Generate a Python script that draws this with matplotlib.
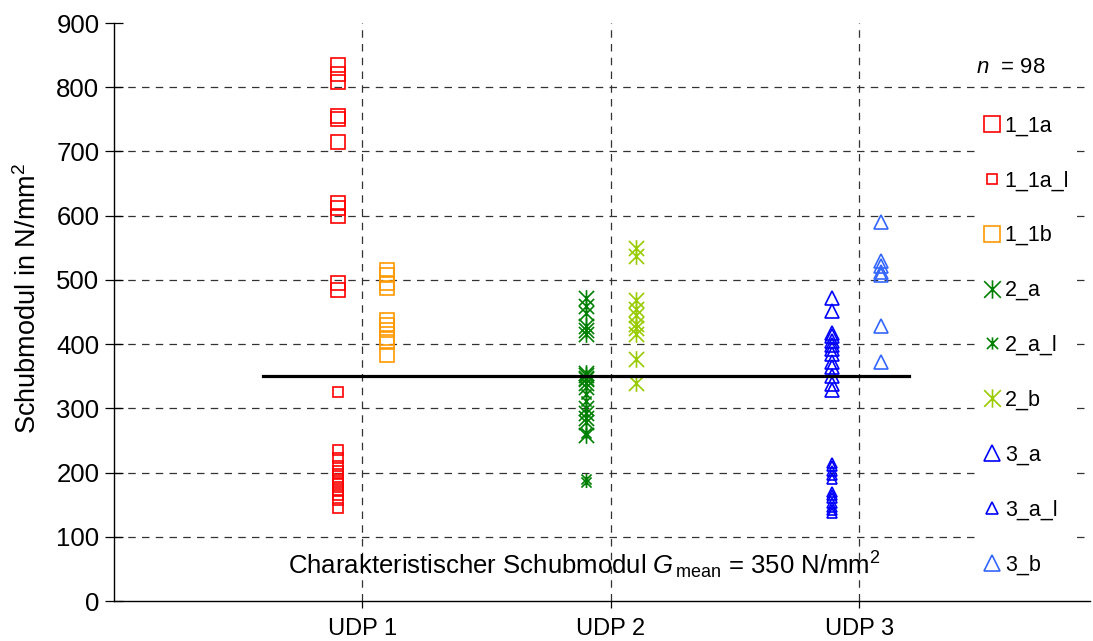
import matplotlib
matplotlib.use('Agg')
import matplotlib.pyplot as plt
from matplotlib.path import Path

plt.rcParams['font.family'] = ['Liberation Sans', 'DejaVu Sans']
plt.rcParams['mathtext.fontset'] = 'custom'
plt.rcParams['mathtext.rm'] = 'Liberation Sans'
plt.rcParams['mathtext.it'] = 'Liberation Sans:italic'

# shear modulus per test series (N/mm^2)
s_1_1a = [835, 820, 808, 755, 750, 715, 620, 612, 600, 495, 485]
s_1_1a_l = [326, 235, 222, 210, 203, 197, 190, 184, 178, 172, 165, 157, 145]
s_1_1b = [515, 507, 495, 488, 437, 430, 422, 410, 403, 383]
s_2_a = [472, 460, 448, 428, 422, 415, 355, 352, 348, 345, 340, 333, 300,
         292, 285, 278, 258]
s_2_a_l = [322, 312, 262, 190, 185]
s_2_b = [550, 537, 468, 455, 445, 432, 425, 415, 377, 340]
s_3_a = [472, 452, 418, 412, 405, 398, 392, 385, 372, 365, 350, 338, 328]
s_3_a_l = [215, 210, 202, 196, 190, 170, 165, 160, 152, 147, 142, 137]
s_3_b = [590, 530, 522, 512, 507, 428, 372]

categories = ['UDP 1', 'UDP 2', 'UDP 3']
g_mean = 350
n_total = 98

# X with a vertical bar, like the classic asterisk marker
asterisk = Path([(-1, -1), (1, 1), (-1, 1), (1, -1), (0, -1.1), (0, 1.1)],
                [Path.MOVETO, Path.LINETO, Path.MOVETO, Path.LINETO,
                 Path.MOVETO, Path.LINETO])

series = [
    ('1_1a',   s_1_1a,   0.9,  's', '#ff0000', 10.5),
    ('1_1a_l', s_1_1a_l, 0.9,  's', '#ff0000', 7),
    ('1_1b',   s_1_1b,   1.1,  's', '#ff9900', 10.5),
    ('2_a',    s_2_a,    1.9,  asterisk, '#008000', 12),
    ('2_a_l',  s_2_a_l,  1.9,  asterisk, '#008000', 8),
    ('2_b',    s_2_b,    2.1,  asterisk, '#99cc00', 12),
    ('3_a',    s_3_a,    2.89, '^', '#0000ff', 10.5),
    ('3_a_l',  s_3_a_l,  2.89, '^', '#0000ff', 7.5),
    ('3_b',    s_3_b,    3.09, '^', '#3366ff', 10.5),
]

fig = plt.figure(figsize=(10.93, 6.41), dpi=100)
ax = fig.add_axes([0.1043, 0.0624, 0.893, 0.9017])

yticks = list(range(0, 901, 100))
for y in yticks[1:-1]:
    ax.axhline(y, color='#333333', lw=0.9, dashes=(6, 5), zorder=1)
for x in [1, 2, 3]:
    ax.axvline(x, color='#333333', lw=0.9, dashes=(6, 5), zorder=1)

handles = []
for name, vals, xpos, mk, col, ms in series:
    h, = ax.plot([xpos] * len(vals), vals, linestyle='none', marker=mk,
                 markersize=ms, markerfacecolor='none', markeredgecolor=col,
                 markeredgewidth=1.2, label=name, zorder=3)
    handles.append(h)

ax.plot([0.6, 3.2], [g_mean, g_mean], color='black', lw=2.3, zorder=4)
ax.text(1.895, 56,
        r'Charakteristischer Schubmodul $\mathit{G}_{\,\mathrm{mean}}$ = %d N/mm$^2$' % g_mean,
        fontsize=18.5, ha='center', va='center', zorder=5)

ax.set_xlim(0, 3.93)
ax.set_ylim(0, 900)
ax.set_yticks(yticks)
ax.set_xticks([1, 2, 3])
ax.set_xticklabels(categories)
ax.tick_params(axis='y', direction='inout', length=13, width=0.9, labelsize=18.5, pad=4)
ax.tick_params(axis='x', direction='out', length=5, width=0.9, labelsize=17, pad=7)
for side in ['top', 'right']:
    ax.spines[side].set_visible(False)
for side in ['left', 'bottom']:
    ax.spines[side].set_linewidth(1.0)

fig.text(0.026, 0.535, r'Schubmodul in N/mm$^2$', rotation=90,
         ha='center', va='center', fontsize=19.5)

ax.text(3.47, 830, r'$\mathit{n}$  = %d' % n_total, fontsize=16,
        ha='left', va='center')

leg = ax.legend(handles=handles, loc='upper left', bbox_to_anchor=(0.873, 0.87),
                frameon=True, facecolor='white', edgecolor='none', framealpha=1,
                fancybox=False, fontsize=15.5, labelspacing=1.575,
                handlelength=0.8, handletextpad=0.2, borderpad=0.3,
                markerscale=1.1)
leg.set_zorder(6)

fig.savefig('out.png', dpi=100)
